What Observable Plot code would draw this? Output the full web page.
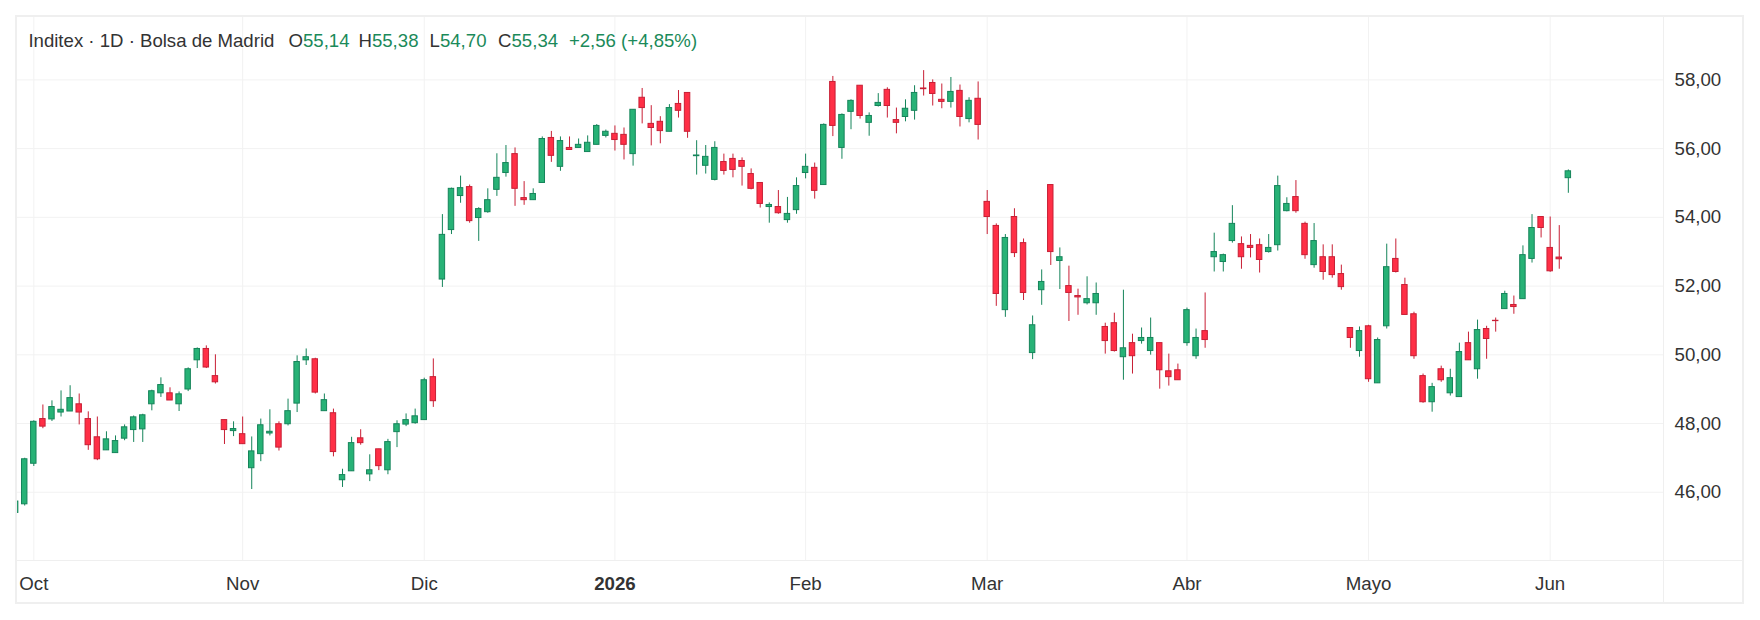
<!DOCTYPE html>
<html>
<head>
<meta charset="utf-8">
<script src="https://cdn.jsdelivr.net/npm/d3@7"></script>
<script src="https://cdn.jsdelivr.net/npm/@observablehq/plot@0.6"></script>
<style>
  html, body { margin: 0; padding: 0; background: #ffffff; }
  #wrap { position: relative; width: 1760px; height: 620px; overflow: hidden;
          font-family: "Liberation Sans", Arial, sans-serif; }
  #wrap svg { position: absolute; left: 0; top: 0; }
  .frame { position: absolute; left: 15px; top: 15px; width: 1725px; height: 585px;
           border: 2px solid #efefef; pointer-events: none; }
  .vsep { position: absolute; left: 1662.5px; top: 17px; width: 1px; height: 585px; background: #efefef; }
  .hsep { position: absolute; left: 17px; top: 560px; width: 1725px; height: 1px; background: #efefef; }
  #legend span.item { position: absolute; white-space: pre; line-height: 1; color: #333333;
                      font-size: 18.6px; top: 31.5px; }
  #legend span.v { color: #1b8a5a; }
</style>
</head>
<body>
<div id="wrap">
  <div id="chart"></div>
  <div class="frame"></div>
  <div class="vsep"></div>
  <div class="hsep"></div>
  <div id="legend"></div>
</div>
<script>
// ---- data ----
const firstDay = "2025-09-29";
const marketHolidays = ["2025-12-25", "2025-12-26", "2026-01-01", "2026-04-03", "2026-04-06", "2026-05-01"];

const open = [
  45.40, 45.65, 46.83, 48.13, 48.12, 48.32, 48.35, 48.56, 48.13, 47.60,
  47.22, 47.14, 47.56, 47.81, 47.83, 48.56, 48.88, 48.88, 48.56, 48.99,
  49.84, 50.17, 49.38, 48.10, 47.78, 47.69, 46.70, 47.11, 47.71, 47.98,
  47.98, 48.58, 49.84, 49.87, 48.36, 48.30, 46.35, 46.61, 47.57, 46.52,
  47.25, 46.64, 47.75, 47.97, 48.01, 48.10, 49.35, 52.19, 53.63, 54.62,
  54.88, 53.98, 54.15, 54.80, 55.29, 55.84, 54.56, 54.50, 55.00, 56.31,
  55.47, 56.02, 56.02, 55.90, 56.11, 56.37, 56.43, 56.40, 55.84, 57.48,
  56.72, 56.78, 56.49, 57.30, 57.62, 55.78, 55.50, 55.09, 55.61, 55.70,
  55.64, 55.26, 55.00, 54.30, 54.30, 53.92, 54.21, 55.29, 55.44, 54.94,
  57.94, 56.02, 57.07, 57.83, 56.75, 57.24, 57.71, 56.83, 56.92, 57.10,
  57.75, 57.91, 57.42, 57.36, 57.68, 56.86, 57.45, 54.45, 53.75, 51.30,
  54.01, 53.25, 50.05, 51.88, 54.94, 52.73, 52.00, 51.71, 51.50, 51.50,
  50.81, 50.92, 49.93, 50.34, 50.40, 50.11, 50.34, 49.52, 49.55, 50.34,
  49.96, 50.69, 52.84, 52.70, 53.31, 53.22, 53.17, 53.19, 52.99, 53.19,
  54.18, 54.59, 53.81, 52.61, 52.84, 52.84, 52.35, 50.78, 50.11, 50.83,
  49.17, 50.83, 52.79, 52.03, 51.18, 49.38, 48.62, 49.58, 48.88, 48.77,
  50.34, 49.58, 50.75, 50.99, 51.33, 51.45, 51.62, 52.79, 54.01, 53.11,
  52.83, 55.14
];
const high = [
  45.75, 46.99, 48.08, 48.54, 48.66, 48.95, 49.10, 48.86, 48.34, 48.19,
  47.76, 47.64, 47.96, 48.22, 48.27, 48.97, 49.33, 49.04, 48.92, 49.62,
  50.20, 50.26, 50.00, 48.10, 48.05, 48.19, 47.61, 48.13, 48.40, 48.05,
  48.71, 49.97, 50.17, 49.90, 48.86, 48.42, 46.67, 47.60, 47.82, 47.09,
  47.25, 47.54, 48.08, 48.28, 48.42, 49.32, 49.88, 54.08, 54.85, 55.20,
  54.94, 54.28, 54.83, 55.85, 56.09, 56.02, 55.04, 54.83, 56.34, 56.50,
  56.34, 56.34, 56.28, 56.37, 56.70, 56.54, 56.66, 56.60, 57.13, 57.75,
  57.25, 56.93, 57.28, 57.69, 57.62, 56.23, 56.09, 56.20, 55.84, 55.84,
  55.73, 55.41, 55.00, 54.42, 54.78, 54.58, 55.15, 55.84, 55.58, 56.72,
  58.10, 57.01, 57.42, 57.83, 57.04, 57.60, 57.77, 57.18, 57.42, 57.83,
  58.27, 58.00, 57.88, 58.07, 57.85, 57.48, 57.94, 54.78, 53.81, 53.50,
  54.25, 53.37, 51.13, 52.47, 54.94, 53.11, 52.58, 51.91, 52.27, 52.09,
  50.92, 51.21, 51.88, 50.60, 50.78, 51.07, 50.34, 50.02, 49.73, 51.36,
  50.75, 51.80, 53.54, 52.93, 54.34, 53.43, 53.50, 53.37, 53.50, 55.20,
  54.57, 55.07, 53.86, 53.82, 53.20, 53.20, 52.61, 50.78, 50.81, 50.86,
  50.49, 53.22, 53.37, 52.23, 51.24, 49.44, 49.17, 49.67, 49.58, 50.34,
  50.66, 51.01, 50.83, 51.07, 51.85, 51.71, 53.17, 54.08, 54.01, 54.01,
  53.76, 55.38
];
const low = [
  45.38, 45.60, 46.75, 47.85, 48.06, 48.19, 48.35, 47.96, 47.22, 46.92,
  47.22, 47.14, 47.50, 47.45, 47.45, 48.37, 48.76, 48.67, 48.35, 48.93,
  49.60, 49.60, 49.15, 47.39, 47.62, 47.40, 46.08, 46.89, 47.64, 47.20,
  47.93, 48.32, 49.69, 48.86, 48.36, 47.03, 46.14, 46.61, 47.37, 46.31,
  46.63, 46.51, 47.30, 47.91, 47.98, 48.10, 48.47, 51.96, 53.50, 54.41,
  53.83, 53.30, 54.12, 54.61, 55.17, 54.32, 54.35, 54.50, 55.00, 55.60,
  55.34, 55.96, 56.02, 55.90, 56.11, 56.31, 55.93, 55.67, 55.49, 56.72,
  56.08, 56.14, 56.49, 56.89, 56.30, 55.23, 55.26, 55.06, 55.23, 55.15,
  54.91, 54.80, 54.27, 53.83, 54.09, 53.83, 54.09, 55.12, 54.53, 54.94,
  56.35, 55.69, 56.55, 56.86, 56.36, 57.21, 56.89, 56.43, 56.78, 56.83,
  57.53, 57.24, 57.16, 57.18, 56.63, 56.75, 56.25, 53.50, 51.41, 51.09,
  52.83, 51.58, 49.86, 51.44, 52.60, 51.90, 50.97, 51.15, 51.45, 51.15,
  50.02, 50.08, 49.26, 49.44, 50.31, 49.99, 49.00, 49.09, 49.26, 50.25,
  49.87, 50.19, 52.41, 52.41, 53.25, 52.49, 52.82, 52.38, 52.96, 53.02,
  54.16, 54.12, 52.78, 52.52, 52.17, 52.23, 51.88, 50.19, 49.93, 49.20,
  49.17, 50.75, 52.38, 51.16, 49.87, 48.59, 48.33, 49.20, 48.80, 48.77,
  49.84, 49.29, 49.87, 50.66, 51.33, 51.18, 51.62, 52.67, 53.40, 52.40,
  52.49, 54.70
];
const close = [
  45.73, 46.96, 48.05, 47.91, 48.48, 48.40, 48.74, 48.32, 47.37, 46.96,
  47.54, 47.49, 47.89, 48.18, 48.24, 48.94, 49.12, 48.67, 48.85, 49.58,
  50.17, 49.63, 49.20, 47.81, 47.84, 47.40, 47.19, 47.95, 47.76, 47.30,
  48.36, 49.79, 49.93, 48.90, 48.68, 47.17, 46.50, 47.43, 47.43, 46.64,
  46.76, 47.46, 47.98, 48.10, 48.21, 49.26, 48.65, 53.49, 54.83, 54.85,
  53.89, 54.24, 54.50, 55.15, 55.58, 54.83, 54.50, 54.68, 56.28, 55.79,
  56.22, 55.96, 56.11, 56.17, 56.66, 56.49, 56.25, 56.11, 57.13, 57.18,
  56.60, 56.51, 57.18, 57.10, 56.49, 55.80, 55.76, 56.02, 55.35, 55.38,
  55.47, 54.83, 54.39, 54.36, 54.12, 54.10, 54.91, 55.47, 54.77, 56.69,
  56.66, 56.98, 57.39, 56.95, 56.95, 57.33, 57.24, 56.75, 57.16, 57.62,
  57.73, 57.59, 57.36, 57.65, 56.92, 57.39, 56.69, 54.01, 51.77, 53.40,
  52.96, 51.80, 50.86, 52.12, 52.99, 52.84, 51.80, 51.67, 51.62, 51.77,
  50.40, 50.11, 50.19, 49.96, 50.49, 50.49, 49.55, 49.35, 49.26, 51.30,
  50.49, 50.43, 52.99, 52.90, 53.81, 52.84, 53.11, 52.76, 53.11, 54.91,
  54.39, 54.18, 52.90, 53.31, 52.41, 52.32, 51.97, 50.49, 50.69, 49.29,
  50.43, 52.55, 52.41, 51.16, 49.96, 48.62, 49.06, 49.26, 49.32, 50.08,
  49.84, 50.72, 50.46, 50.98, 51.77, 51.39, 52.90, 53.69, 53.69, 52.43,
  52.78, 55.34
];

const monthLabels = ["Oct", "Nov", "Dic", "2026", "Feb", "Mar", "Abr", "Mayo", "Jun"];
const priceTicks = [46, 48, 50, 52, 54, 56, 58];
const legendTitle = "Inditex · 1D · Bolsa de Madrid";
const ohlcLetters = ["O", "H", "L", "C"];

// ---- styles ----
const upFill = "#27b276", upLine = "#15845a";
const downFill = "#ff2f46", downLine = "#c81f35";
const gridColor = "#f2f2f2";
const textColor = "#333333";
const legendLefts = [28.4, 288.5, 358.5, 429.6, 498.1, 568.9];

// ---- derived ----
function tradingDays(start, n, closed) {
  const out = [];
  const d = new Date(start + "T12:00:00Z");
  while (out.length < n) {
    const wd = d.getUTCDay();
    const iso = d.toISOString().slice(0, 10);
    if (wd !== 0 && wd !== 6 && !closed.includes(iso)) out.push(new Date(d));
    d.setUTCDate(d.getUTCDate() + 1);
  }
  return out;
}
const dates = tradingDays(firstDay, open.length, marketHolidays);
const bars = open.map((o, i) => ({
  i, date: dates[i], o, h: high[i], l: low[i], c: close[i], up: close[i] >= o
}));
let m = 0;
const monthStarts = [];
bars.forEach((d, k) => {
  if (k > 0 && d.date.getUTCMonth() !== bars[k - 1].date.getUTCMonth()) {
    monthStarts.push({ i: d.i, label: monthLabels[m++], year: d.date.getUTCMonth() === 0 });
  }
});

const fmt = v => v.toFixed(2).replace(".", ",");
const half = 0.3;

const plot = Plot.plot({
  width: 1760,
  height: 620,
  marginLeft: 16.5,
  marginRight: 97,
  marginTop: 16.5,
  marginBottom: 59.5,
  style: { fontFamily: "'Liberation Sans', Arial, sans-serif", fontSize: "18.7px", color: textColor, background: "transparent" },
  x: { type: "linear", domain: [0.15, 181.48], axis: null },
  y: { type: "linear", domain: [44.0, 59.83], axis: null },
  marks: [
    Plot.gridY(priceTicks, { stroke: gridColor, strokeOpacity: 1 }),
    Plot.gridX(monthStarts.map(d => d.i), { stroke: gridColor, strokeOpacity: 1 }),
    Plot.ruleX(bars, {
      x: "i", y1: "l", y2: "h",
      stroke: d => d.up ? upLine : downLine, strokeWidth: 1, clip: true
    }),
    Plot.rect(bars, {
      x1: d => d.i - half, x2: d => d.i + half,
      y1: d => Math.min(d.o, d.c), y2: d => Math.max(d.o, d.c),
      fill: d => d.up ? upFill : downFill,
      stroke: d => d.up ? upLine : downLine, strokeWidth: 1, clip: true
    }),
    Plot.axisY({
      anchor: "right", ticks: priceTicks, tickSize: 0, tickPadding: 11,
      tickFormat: fmt, fontSize: 18.7, label: null
    }),
    Plot.text(monthStarts.filter(d => !d.year), {
      x: "i", text: "label", frameAnchor: "bottom", lineAnchor: "top", dy: 15.5,
      fontSize: 18.7, fill: textColor
    }),
    Plot.text(monthStarts.filter(d => d.year), {
      x: "i", text: "label", frameAnchor: "bottom", lineAnchor: "top", dy: 15.5,
      fontSize: 18.7, fontWeight: "bold", fill: textColor
    })
  ]
});
document.getElementById("chart").appendChild(plot);

// ---- legend (OHLC of the last bar) ----
const last = bars[bars.length - 1], prev = bars[bars.length - 2];
const chg = last.c - prev.c;
const pct = chg / prev.c * 100;
const vals = [last.o, last.h, last.l, last.c];
const sign = chg >= 0 ? "+" : "";
const items = [`<span class="item" style="left:${legendLefts[0]}px">${legendTitle}</span>`];
ohlcLetters.forEach((L, k) => {
  items.push(`<span class="item" style="left:${legendLefts[k + 1]}px">${L}<span class="v">${fmt(vals[k])}</span></span>`);
});
items.push(`<span class="item v" style="left:${legendLefts[5]}px">${sign}${fmt(chg)} (${sign}${fmt(pct)}%)</span>`);
document.getElementById("legend").innerHTML = items.join("");
</script>
</body>
</html>
